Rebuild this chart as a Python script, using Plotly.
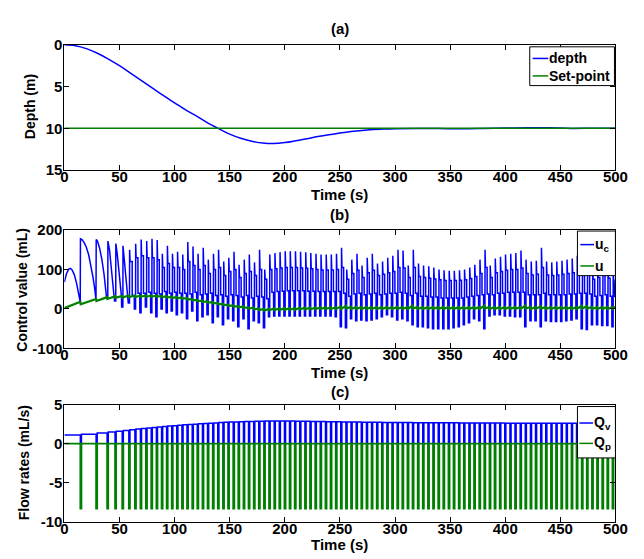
import plotly.graph_objects as go

# ---------------- data ----------------
# (a) depth response and set-point
depth_t = [0, 10, 20, 30, 40, 50, 60, 70, 80, 90, 100, 110, 120, 130, 140, 150, 160, 170,
           180, 190, 200, 210, 220, 230, 240, 250, 260, 270, 280, 290, 300, 320, 340, 360,
           380, 400, 420, 440, 460, 480, 500]
depth_m = [0.0, 0.1, 0.45, 1.0, 1.7, 2.5, 3.4, 4.3, 5.2, 6.1, 6.95, 7.8, 8.55, 9.35, 10.05,
           10.7, 11.2, 11.55, 11.78, 11.84, 11.72, 11.5, 11.25, 11.0, 10.78, 10.58, 10.4,
           10.26, 10.16, 10.09, 10.05, 10.02, 10.04, 10.07, 10.03, 9.97, 9.93, 9.95, 10.02,
           10.0, 10.0]
setpoint = 10

# pump / valve switching instants (s)
pulse_t = [14.5, 28.8, 38.8, 46.0, 52.5, 58.5, 64.0, 69.0, 74.0, 78.8, 83.5, 88.2, 92.8, 97.4,
           102.0, 106.7, 111.3, 116.0, 120.6, 125.3, 129.9, 134.6, 139.2, 143.9, 148.5, 153.2,
           157.8, 162.5, 167.1, 171.8, 176.4, 181.1, 185.7, 190.4, 195.0, 199.7, 204.3, 209.0,
           213.6, 218.3, 222.9, 227.6, 232.2, 236.9, 241.5, 246.2, 250.8, 255.5, 260.1, 264.8,
           269.4, 274.1, 278.7, 283.4, 288.0, 292.7, 297.3, 302.0, 306.6, 311.3, 315.9, 320.6,
           325.2, 329.9, 334.5, 339.2, 343.8, 348.5, 353.1, 357.8, 362.4, 367.1, 371.7, 376.4,
           381.0, 385.7, 390.3, 395.0, 399.6, 404.3, 408.9, 413.6, 418.2, 422.9, 427.5, 432.2,
           436.8, 441.5, 446.1, 450.8, 455.4, 460.1, 464.7, 469.4, 474.0, 478.7, 483.3, 488.0,
           492.6, 497.3]
pulse_width = 1.0

# (b) commanded control u_c: first three arcs (before the 3rd switching instant)
uc_arc_t = [0, 2, 4, 5.5, 7, 9, 11, 13, 14.4, 14.6, 16, 18, 20, 22, 24, 26, 27.5, 28.7,
            28.9, 30, 32, 34, 36, 37.5, 38.3]
uc_arc_v = [68, 90, 101, 103, 99, 87, 66, 38, 17, 178, 176, 168, 156, 138, 113, 80, 52, 24,
            176, 172, 154, 126, 88, 55, 30]
# per-cycle values from the 3rd switching instant on: dip, peak, upper and lower plateau
uc_lo = [28, 20, 5, 15, 0, -10, 5, -10, -20, 0, -10, -5, -15, -10, -25, -5, -30, -20, -15,
         -35, -20, -40, -25, -30, -45, -25, -50, -30, -35, -48, -20, -18, -18, -18, -18, -18,
         -18, -18, -18, -18, -18, -18, -18, -20, -45, -48, -25, -30, -28, -30, -28, -25, -20,
         -15, -20, -28, -25, -30, -40, -45, -45, -48, -50, -50, -50, -50, -48, -45, -40, -35,
         -25, -30, -50, -18, -15, -15, -18, -18, -20, -20, -45, -30, -30, -45, -30, -32, -32,
         -32, -30, -28, -25, -50, -52, -40, -40, -42, -42, -45]
uc_hi = [172, 166, 160, 150, 165, 176, 172, 178, 175, 140, 160, 140, 145, 138, 170, 158, 140,
         155, 125, 140, 150, 120, 130, 145, 112, 125, 138, 118, 150, 100, 138, 142, 144, 146,
         146, 146, 145, 144, 142, 140, 138, 138, 138, 140, 155, 100, 125, 140, 110, 130, 140,
         115, 120, 130, 135, 150, 148, 110, 150, 115, 110, 108, 105, 100, 98, 97, 97, 98, 100,
         105, 112, 125, 150, 110, 128, 132, 138, 140, 142, 148, 125, 120, 122, 155, 120, 118,
         120, 122, 125, 128, 135, 145, 140, 100, 110, 120, 105, 95]
uc_mid = [150, 140, 130, 120, 130, 135, 130, 130, 125, 105, 115, 105, 105, 100, 120, 110, 100,
          110, 90, 100, 105, 85, 95, 100, 80, 90, 95, 85, 100, 75, 100, 102, 104, 105, 105, 105,
          104, 103, 102, 100, 99, 99, 99, 100, 105, 75, 90, 98, 80, 92, 98, 85, 88, 92, 95, 105,
          104, 80, 105, 82, 80, 78, 76, 74, 72, 72, 72, 73, 74, 77, 82, 90, 105, 80, 92, 95, 98,
          100, 100, 104, 90, 86, 88, 105, 86, 85, 86, 88, 90, 92, 96, 102, 100, 75, 80, 86, 78,
          72]
uc_end = [35, 32, 30, 34, 40, 40, 42, 40, 38, 44, 40, 42, 40, 40, 38, 42, 36, 38, 40, 34, 36,
          32, 36, 34, 30, 34, 28, 32, 30, 26, 42, 44, 45, 46, 46, 46, 46, 45, 45, 44, 44, 44, 44,
          44, 40, 32, 38, 40, 36, 38, 40, 36, 38, 40, 40, 42, 40, 34, 40, 32, 32, 30, 30, 28, 28,
          28, 28, 28, 30, 32, 34, 36, 38, 36, 40, 40, 42, 42, 42, 42, 36, 36, 36, 40, 36, 36, 36,
          36, 38, 38, 40, 40, 38, 32, 34, 36, 32, 30]

# (b) applied control u: value just before / just after each switching instant
u_start = 2
u_pre = [18, 25, 30, 32, 33, 34, 34, 34, 34, 34, 34, 33, 32, 31, 30, 29, 27, 25, 23, 21, 19,
         17, 15, 13, 11, 9, 7, 6, 4, 3, 1, 0, 0, 1, 1, 2, 2, 2, 3, 3, 3, 3, 4, 4, 4, 4, 6, 8, 5,
         5, 5, 5, 5, 5, 5, 5, 5, 5, 5, 5, 8, 5, 5, 5, 5, 5, 5, 5, 5, 5, 5, 5, 5, 5, 8, 5, 5, 5,
         5, 5, 5, 5, 8, 5, 5, 7, 5, 5, 5, 5, 5, 5, 5, 8, 7, 5, 5, 5, 5, 5]
u_post = [12, 20, 25, 28, 29, 30, 30, 31, 31, 31, 31, 30, 29, 28, 27, 26, 24, 22, 20, 18, 16,
          14, 12, 10, 8, 6, 4, 3, 1, -1, -3, -4, -3, -3, -3, -2, -2, -2, -1, -1, -1, -1, 0, 0, 0,
          0, 0, 1, 0, 0, 0, 0, 0, 0, 0, 0, 0, 0, 0, 0, 1, 0, 0, 0, 0, 0, 0, 0, 0, 0, 0, 0, 0, 0,
          1, 0, 0, 0, 0, 0, 0, 0, 1, 0, 0, 1, 0, 0, 0, 0, 0, 0, 0, 1, 1, 0, 0, 0, 0, 0]

# (c) valve flow level after each switching instant, and pump flow during a pulse
qv_start = 1.1
qv_level = [1.22, 1.38, 1.5, 1.6, 1.7, 1.78, 1.87, 1.95, 2.02, 2.08, 2.14, 2.2, 2.26, 2.31,
            2.36, 2.41, 2.46, 2.5, 2.55, 2.59, 2.62, 2.66, 2.7, 2.73, 2.76, 2.79, 2.81, 2.83,
            2.85, 2.87, 2.88, 2.89, 2.9, 2.9, 2.9, 2.9, 2.89, 2.88, 2.87, 2.86, 2.85, 2.84, 2.83,
            2.82, 2.81, 2.8, 2.79, 2.78, 2.77, 2.76, 2.75, 2.74, 2.74, 2.73, 2.72, 2.72, 2.71,
            2.71, 2.7, 2.7, 2.69, 2.69, 2.69, 2.68, 2.68, 2.68, 2.67, 2.67, 2.67, 2.66, 2.66,
            2.66, 2.65, 2.65, 2.65, 2.64, 2.64, 2.64, 2.63, 2.63, 2.63, 2.62, 2.62, 2.62, 2.62,
            2.61, 2.61, 2.61, 2.61, 2.6, 2.6, 2.6, 2.6, 2.6, 2.6, 2.6, 2.6, 2.6, 2.6, 2.6]
qp_pulse = -8.3

T_END = 500

x_ticks = [0, 50, 100, 150, 200, 250, 300, 350, 400, 450, 500]
ya_ticks = [0, 5, 10, 15]
yb_ticks = [-100, 0, 100, 200]
yc_ticks = [-10, -5, 0, 5]

# ---------------- build stepped signals ----------------
# u_c: dip and jump at each switching instant (a narrow bar); long early cycles
# decay smoothly, short cycles hold an upper plateau then step to a lower one
uc_x, uc_y = list(uc_arc_t), list(uc_arc_v)
cyc_t = pulse_t[2:]
for i, tk in enumerate(cyc_t):
    tn = cyc_t[i + 1] if i + 1 < len(cyc_t) else T_END
    dt = tn - tk
    uc_x += [tk - 0.5, tk + 0.6, tk + 0.7]
    uc_y += [uc_lo[i], uc_lo[i], uc_hi[i]]
    if dt >= 5.6:
        uc_x += [tk + 0.3 * dt, tn - 0.7]
        uc_y += [uc_mid[i], uc_end[i]]
    else:
        half = tk + 0.55 * dt
        uc_x += [tk + 1.1, half, half + 0.05, tn - 0.6]
        uc_y += [uc_mid[i], uc_mid[i], uc_end[i], uc_end[i]]

# u
u_x, u_y = [0], [u_start]
for tk, a, b in zip(pulse_t, u_pre, u_post):
    u_x += [tk, tk + 0.3]
    u_y += [a, b]
u_x.append(T_END)
u_y.append(u_pre[-1])

# Q_v and Q_p
qv_x, qv_y = [0], [qv_start]
qp_x, qp_y = [0], [0]
prev = qv_start
for tk, lvl in zip(pulse_t, qv_level):
    qv_x += [tk, tk, tk + pulse_width, tk + pulse_width]
    qv_y += [prev, 0, 0, lvl]
    qp_x += [tk, tk, tk + pulse_width, tk + pulse_width]
    qp_y += [0, qp_pulse, qp_pulse, 0]
    prev = lvl
qv_x.append(T_END)
qv_y.append(prev)
qp_x.append(T_END)
qp_y.append(0)

# ---------------- figure ----------------
BLUE = "rgb(0,0,255)"
GREEN = "rgb(0,128,0)"
FONT = "Liberation Sans, Arial, sans-serif"

fig = go.Figure()
fig.add_trace(go.Scatter(x=depth_t, y=depth_m, mode="lines", name="depth",
                         line=dict(color=BLUE, width=1.5, shape="spline"),
                         xaxis="x", yaxis="y"))
fig.add_trace(go.Scatter(x=[0, T_END], y=[setpoint, setpoint], mode="lines", name="Set-point",
                         line=dict(color=GREEN, width=1.5), xaxis="x", yaxis="y"))
fig.add_trace(go.Scatter(x=uc_x, y=uc_y, mode="lines", name="u_c",
                         line=dict(color=BLUE, width=1.5), xaxis="x2", yaxis="y2"))
fig.add_trace(go.Scatter(x=u_x, y=u_y, mode="lines", name="u",
                         line=dict(color=GREEN, width=2.2), xaxis="x2", yaxis="y2"))
fig.add_trace(go.Scatter(x=qv_x, y=qv_y, mode="lines", name="Q_v",
                         line=dict(color=BLUE, width=1.5), xaxis="x3", yaxis="y3"))
fig.add_trace(go.Scatter(x=qp_x, y=qp_y, mode="lines", name="Q_p",
                         line=dict(color=GREEN, width=1.8), xaxis="x3", yaxis="y3"))

W, H = 644, 559
L, R = 62, 628


def px(x):
    return x / W


def py(y):
    return 1 - y / H


def bold(vals):
    return ["<b>%d</b>" % v for v in vals]


tickfont = dict(family=FONT, size=15, color="black")
base = dict(showline=True, linecolor="black", linewidth=1, mirror="allticks",
            ticks="inside", ticklen=5, tickcolor="black", showgrid=False,
            zeroline=False, tickfont=tickfont, fixedrange=True, tickmode="array")

xcfg = dict(base, range=[0, T_END], tickvals=x_ticks, ticktext=bold(x_ticks),
            domain=[px(L), px(R)], ticklabelstandoff=-7)

fig.update_layout(
    width=W, height=H, autosize=False,
    margin=dict(l=0, r=0, t=0, b=0),
    paper_bgcolor="white", plot_bgcolor="white",
    showlegend=False,
    xaxis=dict(xcfg, anchor="y"),
    xaxis2=dict(xcfg, anchor="y2"),
    xaxis3=dict(xcfg, anchor="y3"),
    yaxis=dict(base, range=[15, 0], tickvals=ya_ticks, ticktext=bold(ya_ticks),
               anchor="x", domain=[py(166), py(37)], ticklabelstandoff=-2),
    yaxis2=dict(base, range=[-100, 200], tickvals=yb_ticks, ticktext=bold(yb_ticks),
                anchor="x2", domain=[py(350), py(228)], ticklabelstandoff=-2),
    yaxis3=dict(base, range=[-10, 5], tickvals=yc_ticks, ticktext=bold(yc_ticks),
                anchor="x3", domain=[py(529), py(408)], ticklabelstandoff=-2),
)

lab = dict(family=FONT, size=15, color="black")
ylab = dict(family=FONT, size=14, color="black")
leg = dict(family=FONT, size=14, color="black")
cx = px((L + R) / 2)
ann = []
for text, y in [("(a)", 20), ("Time (s)", 191), ("(b)", 212), ("Time (s)", 375),
                ("(c)", 395), ("Time (s)", 552)]:
    ann.append(dict(text="<b>%s</b>" % text, x=cx, y=py(y), xref="paper", yref="paper",
                    showarrow=False, font=lab, xanchor="center", yanchor="middle"))
for text, x, y in [("Depth (m)", 27, 101), ("Control value (mL)", 19, 289),
                   ("Flow rates (mL/s)", 20, 468)]:
    ann.append(dict(text="<b>%s</b>" % text, x=px(x), y=py(y), xref="paper", yref="paper",
                    showarrow=False, font=ylab, textangle=-90,
                    xanchor="center", yanchor="middle"))

# legend boxes
shapes = []
legends = [
    ((540, 627, 39, 79), 543, 559, 559, [("depth", 51, BLUE), ("Set-point", 69, GREEN)]),
    ((589, 628, 229, 275), 592, 606, 606, [("u<sub>c</sub>", 243, BLUE), ("u", 265, GREEN)]),
    ((589, 628, 410, 463), 591, 605, 605, [("Q<sub>v</sub>", 427, BLUE),
                                          ("Q<sub>p</sub>", 448, GREEN)]),
]
for (x0, x1, y0, y1), lx0, lx1, tx, rows in legends:
    shapes.append(dict(type="rect", xref="paper", yref="paper", x0=px(x0), x1=px(x1),
                       y0=py(y1), y1=py(y0), fillcolor="white",
                       line=dict(color="black", width=1), layer="above"))
    for text, yy, col in rows:
        shapes.append(dict(type="line", xref="paper", yref="paper", x0=px(lx0), x1=px(lx1),
                           y0=py(yy), y1=py(yy), line=dict(color=col, width=1.5),
                           layer="above"))
        ann.append(dict(text="<b>%s</b>" % text, x=px(tx), y=py(yy), xref="paper",
                        yref="paper", showarrow=False, font=leg, xanchor="left",
                        yanchor="middle", borderpad=0))

fig.update_layout(annotations=ann, shapes=shapes)
fig.write_html("out.html")
